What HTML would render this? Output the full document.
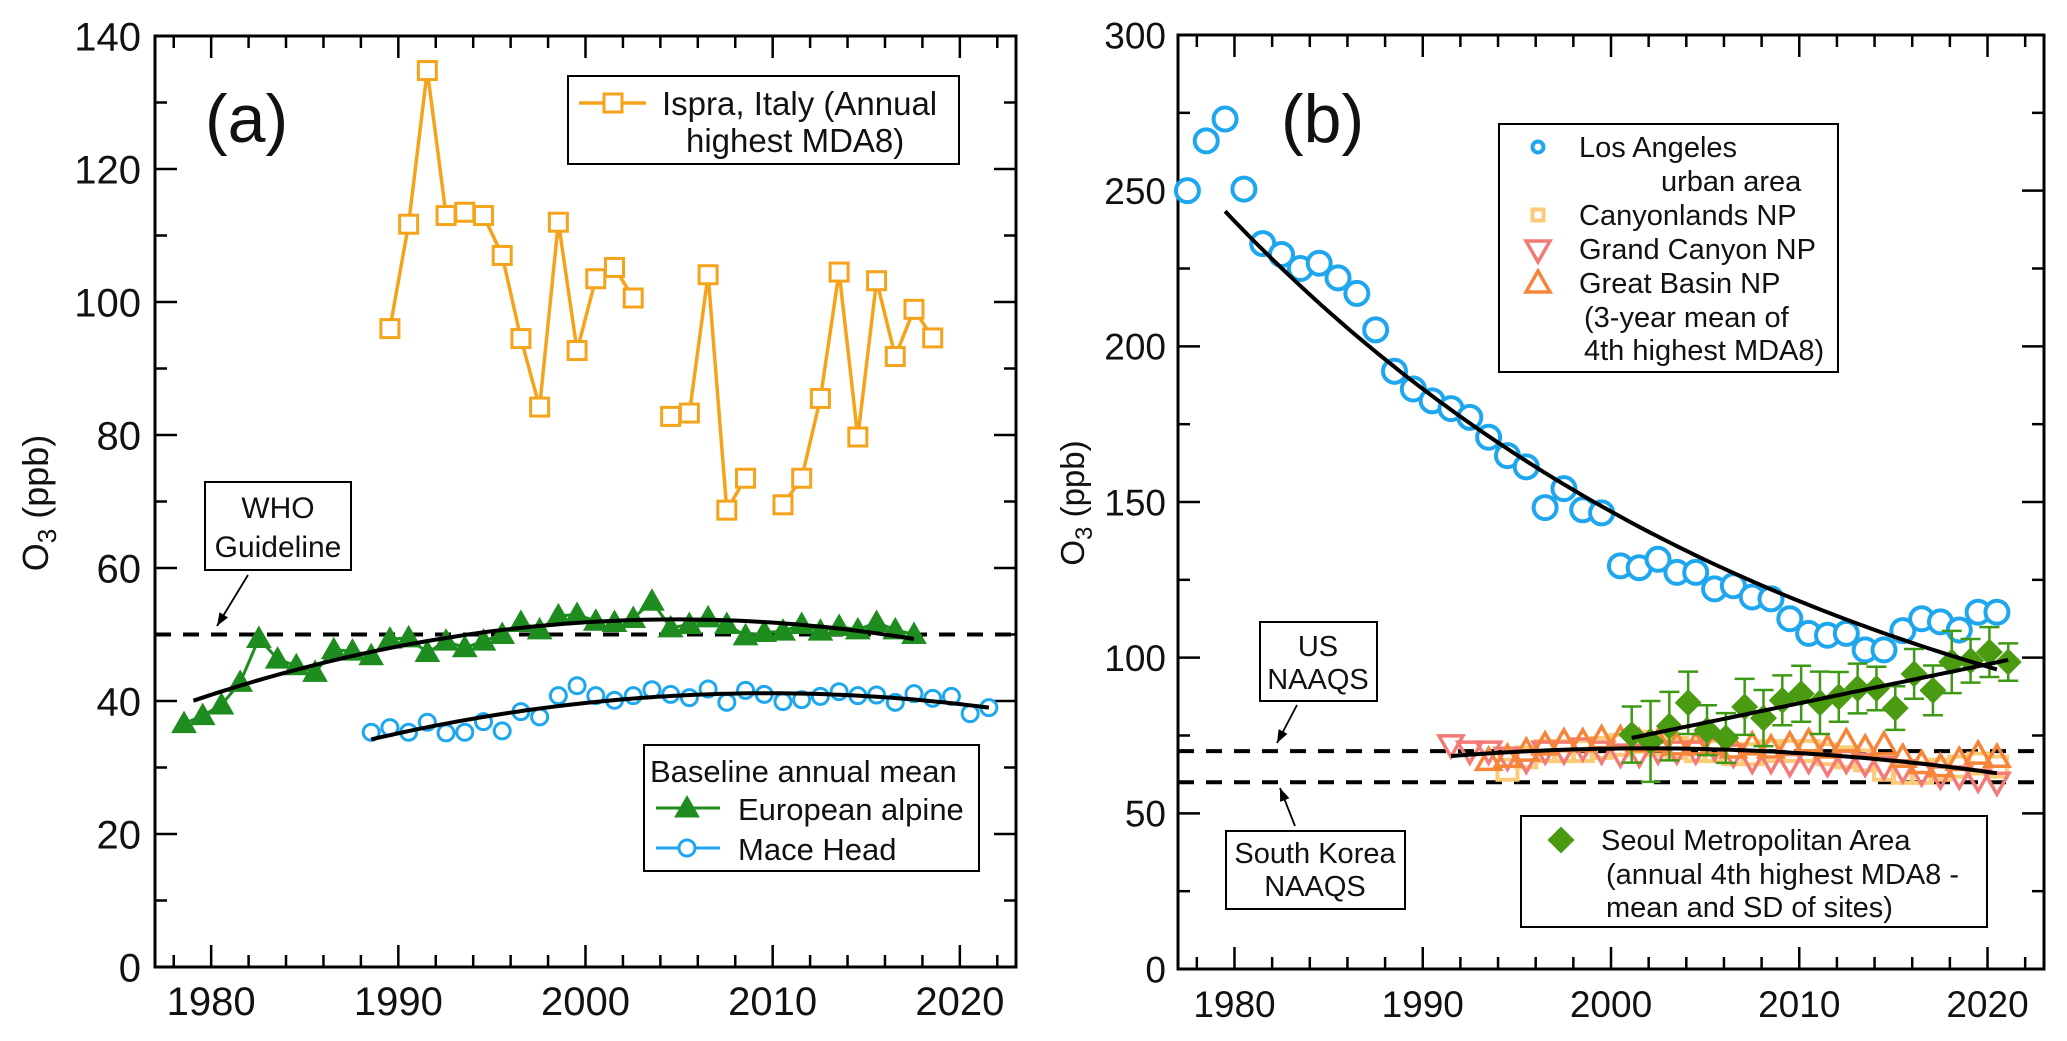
<!DOCTYPE html>
<html><head><meta charset="utf-8"><style>
html,body{margin:0;padding:0;background:#fff;}
svg{display:block;font-family:"Liberation Sans",sans-serif;}
</style></head><body>
<svg id="fig" width="2067" height="1041" viewBox="0 0 2067 1041" xmlns="http://www.w3.org/2000/svg">
<g id="pa"></g>
<g id="pb"></g>
</svg>
<script>
// ---------- Panel (a) data ----------
const ispraYears = [1989,1990,1991,1992,1993,1994,1995,1996,1997,1998,1999,2000,2001,2002,2003,2004,2005,2006,2007,2008,2009,2010,2011,2012,2013,2014,2015,2016,2017,2018];
const ispraVals = [96,111.7,134.8,113,113.5,113,107,94.5,84.2,112,92.7,103.5,105.2,100.6,null,82.8,83.3,104.1,68.7,73.5,null,69.5,73.5,85.5,104.5,79.7,103.2,91.8,98.9,94.6];
const alpineYears = [1978,1979,1980,1981,1982,1983,1984,1985,1986,1987,1988,1989,1990,1991,1992,1993,1994,1995,1996,1997,1998,1999,2000,2001,2002,2003,2004,2005,2006,2007,2008,2009,2010,2011,2012,2013,2014,2015,2016,2017];
const alpineVals = [36.6,37.8,39.4,42.8,49.4,46.3,45.3,44.3,47.7,47.5,46.8,49.3,49.5,47.3,49,48,49,50,51.8,50.7,52.8,53,52,51.8,52.4,55,51,51.5,52.5,51.5,49.8,50.3,50.5,51.5,50.5,51.2,50.7,51.8,50.7,50];
const maceYears = [1988,1989,1990,1991,1992,1993,1994,1995,1996,1997,1998,1999,2000,2001,2002,2003,2004,2005,2006,2007,2008,2009,2010,2011,2012,2013,2014,2015,2016,2017,2018,2019,2020,2021];
const maceVals = [35.3,36,35.3,36.8,35.2,35.3,36.9,35.5,38.4,37.6,40.8,42.3,40.8,40.1,40.8,41.7,41,40.5,41.8,39.8,41.6,41,39.9,40.2,40.7,41.4,40.8,40.9,39.8,41.1,40.4,40.7,38.1,39];
const aYTicks = [0,20,40,60,80,100,120,140];
const xTickLabels = [1980,1990,2000,2010,2020];
const whoGuideline = 50;

// ---------- Panel (b) data ----------
const laYears = [1977,1978,1979,1980,1981,1982,1983,1984,1985,1986,1987,1988,1989,1990,1991,1992,1993,1994,1995,1996,1997,1998,1999,2000,2001,2002,2003,2004,2005,2006,2007,2008,2009,2010,2011,2012,2013,2014,2015,2016,2017,2018,2019,2020];
const laVals = [250,266,273,250.5,233,229.5,225,226.7,222,217,205.3,192,186.3,182.5,180,177.2,170.8,164.9,161.3,148.2,154.3,147.5,146.5,129.5,128.9,131.6,127.4,127.4,122.1,123.1,119.5,118.9,112.5,107.8,107.2,107.8,102.5,102.5,108.7,112.5,111.5,108.9,114.6,114.6];
const gcYears = [1991,1992,1993,1994,1995,1996,1997,1998,1999,2000,2001,2002,2003,2004,2005,2006,2007,2008,2009,2010,2011,2012,2013,2014,2015,2016,2017,2018,2019,2020];
const gcVals = [72,70,70,68,67,70,70,71,70,69,69,70,70,70,71,69,67,67,66,67,66,67,66,65,64,63,62,62,61,60];
const gbYears = [1993,1994,1995,1996,1997,1998,1999,2000,2001,2002,2003,2004,2005,2006,2007,2008,2009,2010,2011,2012,2013,2014,2015,2016,2017,2018,2019,2020];
const gbVals = [67,68,70,72,73,73,74,74,73,73,72,72,72,71,72,71,72,73,71,73,71,72,68,66,65,67,69,68];
const cyYears = [1994,1995,1996,1997,1998,1999,2000,2001,2002,2003,2004,2005,2006,2007,2008,2009,2010,2011,2012,2013,2014,2015,2016,2017,2018,2019,2020];
const cyVals = [64,68,70,70,70,71,72,73,72,71,70,70,69,69,70,70,70,69,68,67,64,63,63,64,65,66,65];
const seoulYears = [2001,2002,2003,2004,2005,2006,2007,2008,2009,2010,2011,2012,2013,2014,2015,2016,2017,2018,2019,2020,2021];
const seoulVals = [75.3,73.1,78,85.5,76.7,74.2,84.2,80.6,86.3,88.4,85.5,87.4,90.1,90.1,83.8,94.8,89.5,98.6,99,101.8,98.6];
const seoulSD = [9,13,11,10,8,8,9,9,8,9,10,8,8,7,7,8,8,10,7,8,6];
const bYTicks = [0,50,100,150,200,250,300];
const usNaaqs = 70, krNaaqs = 60;

const NS = "http://www.w3.org/2000/svg";
function mk(parent, tag, attrs, text){
  const e = document.createElementNS(NS, tag);
  for (const k in attrs) e.setAttribute(k, attrs[k]);
  if (text !== undefined) e.textContent = text;
  parent.appendChild(e);
  return e;
}
function polyfit2(xs, ys){
  const n = xs.length; const m = xs.reduce((a,b)=>a+b,0)/n;
  let S=[0,0,0,0,0], T=[0,0,0];
  for(let i=0;i<n;i++){const x=xs[i]-m;let p=1;for(let k=0;k<5;k++){S[k]+=p;if(k<3)T[k]+=p*ys[i];p*=x;}}
  const A=[[S[0],S[1],S[2],T[0]],[S[1],S[2],S[3],T[1]],[S[2],S[3],S[4],T[2]]];
  for(let i=0;i<3;i++){for(let j=i+1;j<3;j++){const f=A[j][i]/A[i][i];for(let k=i;k<4;k++)A[j][k]-=f*A[i][k];}}
  const c=[0,0,0];
  for(let i=2;i>=0;i--){let s=A[i][3];for(let k=i+1;k<3;k++)s-=A[i][k]*c[k];c[i]=s/A[i][i];}
  return x=>{const d=x-m;return c[0]+c[1]*d+c[2]*d*d;};
}
function linfit(xs, ys){
  const n=xs.length, mx=xs.reduce((a,b)=>a+b,0)/n, my=ys.reduce((a,b)=>a+b,0)/n;
  let sxy=0,sxx=0; for(let i=0;i<n;i++){sxy+=(xs[i]-mx)*(ys[i]-my);sxx+=(xs[i]-mx)**2;}
  const b=sxy/sxx; return x=>my+b*(x-mx);
}

function axesFrame(g, L, T, R, B, xs, ys, yMajor, yMinorStep, yMax, fsz, ylabX){
  mk(g,'rect',{x:L,y:T,width:R-L,height:B-T,fill:'none',stroke:'#000','stroke-width':3});
  for(let yr=1978; yr<=2022; yr+=2){
    const x=xs(yr), major = yr%10===0, len = major?22:12;
    const t1=mk(g,'line',{x1:x,y1:B,x2:x,y2:B-len,stroke:'#000','stroke-width':2.5});
     
    mk(g,'line',{x1:x,y1:T,x2:x,y2:T+len,stroke:'#000','stroke-width':2.5});
  }
  xTickLabels.forEach(v=>{
    const t=mk(g,'text',{x:xs(v),y:B+48,'text-anchor':'middle','font-size':fsz,fill:'#111'},String(v));
     
  });
  for(let v=0; v<=yMax; v+=yMinorStep){
    const y=ys(v), major = yMajor.includes(v), len = major?22:12;
    mk(g,'line',{x1:L,y1:y,x2:L+len,y2:y,stroke:'#000','stroke-width':2.5});
    mk(g,'line',{x1:R,y1:y,x2:R-len,y2:y,stroke:'#000','stroke-width':2.5});
  }
  yMajor.forEach(v=>{
    const t=mk(g,'text',{x:ylabX,y:ys(v)+fsz*0.36,'text-anchor':'end','font-size':fsz,fill:'#111'},String(v));
     
  });
}
function dashed(g,L,R,y){
  return mk(g,'line',{x1:L,y1:y,x2:R,y2:y,stroke:'#000','stroke-width':4,'stroke-dasharray':'16 12'});
}
function curve(g, f, x0, x1, xs, ys){
  let d=''; for(let i=0;i<=80;i++){const x=x0+(x1-x0)*i/80; d+=(i?'L':'M')+xs(x).toFixed(1)+','+ys(f(x)).toFixed(1);}
  return mk(g,'path',{d:d,fill:'none',stroke:'#000','stroke-width':4});
}
function marker(g, type, cx, cy, s, color, sw, fill){
  let e;
  if(type==='sq') e=mk(g,'rect',{x:cx-s/2,y:cy-s/2,width:s,height:s,fill:fill||'#fff',stroke:color,'stroke-width':sw});
  else if(type==='ci') e=mk(g,'circle',{cx:cx,cy:cy,r:s/2,fill:fill||'#fff',stroke:color,'stroke-width':sw});
  else if(type==='tu') e=mk(g,'polygon',{points:`${cx},${cy-s*0.6} ${cx-s*0.6},${cy+s*0.45} ${cx+s*0.6},${cy+s*0.45}`,fill:fill||'none',stroke:color,'stroke-width':sw});
  else if(type==='td') e=mk(g,'polygon',{points:`${cx},${cy+s*0.6} ${cx-s*0.6},${cy-s*0.45} ${cx+s*0.6},${cy-s*0.45}`,fill:fill||'none',stroke:color,'stroke-width':sw});
  else if(type==='di') e=mk(g,'polygon',{points:`${cx},${cy-s/2} ${cx+s/2},${cy} ${cx},${cy+s/2} ${cx-s/2},${cy}`,fill:fill,stroke:'none'});
  return e;
}
function seriesLine(g, years, vals, off, xs, ys, color, w){
  let d='', pen=false;
  years.forEach((yr,i)=>{const v=vals[i]; if(v===null){pen=false;return;} d+=(pen?'L':'M')+xs(yr+off).toFixed(1)+','+ys(v).toFixed(1); pen=true;});
  return mk(g,'path',{d:d,fill:'none',stroke:color,'stroke-width':w});
}
function arrow(g,x1,y1,x2,y2){
  mk(g,'line',{x1:x1,y1:y1,x2:x2,y2:y2,stroke:'#000','stroke-width':1.8});
  const a=Math.atan2(y2-y1,x2-x1), L=13, W=5;
  const p1=[x2-L*Math.cos(a)+W*Math.sin(a), y2-L*Math.sin(a)-W*Math.cos(a)];
  const p2=[x2-L*Math.cos(a)-W*Math.sin(a), y2-L*Math.sin(a)+W*Math.cos(a)];
  mk(g,'polygon',{points:`${x2},${y2} ${p1[0]},${p1[1]} ${p2[0]},${p2[1]}`,fill:'#000'});
}

// ================= Panel (a) =================
(function(){
  const g=document.getElementById('pa');
  const L=155,R=1016,T=36,B=967;
  const xs=yr=>L+(yr-1977)/(2023-1977)*(R-L);
  const ys=v=>B-v/140*(B-T);
  axesFrame(g,L,T,R,B,xs,ys,aYTicks,10,140,40,141);
  const yt=mk(g,'text',{x:0,y:0,'font-size':36,'text-anchor':'middle',transform:'translate(48,503) rotate(-90)',fill:'#111'});
   
  yt.innerHTML='O<tspan font-size="26" dy="8">3</tspan><tspan dy="-8"> (ppb)</tspan>';
  const lab=mk(g,'text',{x:205,y:142,'font-size':68,fill:'#111'},'(a)');
   

  const wl=dashed(g,L,R,ys(whoGuideline));
   

  const aOff=0.55;
  const af=polyfit2(alpineYears.map(y=>y+aOff),alpineVals);
  const mf=polyfit2(maceYears.map(y=>y+aOff),maceVals);
  const il=seriesLine(g,ispraYears,ispraVals,aOff,xs,ys,'#F5A31A',3.5);
   
  ispraYears.forEach((yr,i)=>{ if(ispraVals[i]===null) return;
    const m=marker(g,'sq',xs(yr+aOff),ys(ispraVals[i]),18,'#F5A31A',3);
     });
  const al=seriesLine(g,alpineYears,alpineVals,aOff,xs,ys,'#1E8C1E',3);
   
  alpineYears.forEach((yr,i)=>{
    const m=marker(g,'tu',xs(yr+aOff),ys(alpineVals[i]),20,'#1E8C1E',1,'#1E8C1E');
     });
  maceYears.forEach((yr,i)=>{
    const m=marker(g,'ci',xs(yr+aOff),ys(maceVals[i]),16,'#1EA7EE',3);
     });
  const c1=curve(g,af,alpineYears[0]+aOff+0.5,alpineYears[alpineYears.length-1]+aOff,xs,ys);
   
  const c2=curve(g,mf,maceYears[0]+aOff,maceYears[maceYears.length-1]+aOff,xs,ys);
   

  const wb=mk(g,'g',{});  
  mk(wb,'rect',{x:205,y:482,width:146,height:88,fill:'#fff',stroke:'#000','stroke-width':2});
  mk(wb,'text',{x:278,y:518,'font-size':30,'text-anchor':'middle',fill:'#111'},'WHO');
  mk(wb,'text',{x:278,y:557,'font-size':30,'text-anchor':'middle',fill:'#111'},'Guideline');
  arrow(g,248,575,217,626);

  const lg=mk(g,'g',{});  
  mk(lg,'rect',{x:568,y:76,width:391,height:88,fill:'#fff',stroke:'#000','stroke-width':2});
  mk(lg,'line',{x1:579,y1:103,x2:646,y2:103,stroke:'#F5A31A','stroke-width':3.5});
  marker(lg,'sq',613,103,18,'#F5A31A',3);
  mk(lg,'text',{x:662,y:115,'font-size':33,fill:'#111'},'Ispra, Italy (Annual');
  mk(lg,'text',{x:686,y:152,'font-size':33,fill:'#111'},'highest MDA8)');

  const bl=mk(g,'g',{});  
  mk(bl,'rect',{x:644,y:745,width:335,height:126,fill:'#fff',stroke:'#000','stroke-width':2});
  mk(bl,'text',{x:650,y:782,'font-size':31,fill:'#111'},'Baseline annual mean');
  mk(bl,'line',{x1:656,y1:808,x2:720,y2:808,stroke:'#1E8C1E','stroke-width':3});
  marker(bl,'tu',687,808,20,'#1E8C1E',1,'#1E8C1E');
  mk(bl,'text',{x:738,y:820,'font-size':31,fill:'#111'},'European alpine');
  mk(bl,'line',{x1:656,y1:848,x2:720,y2:848,stroke:'#1EA7EE','stroke-width':3});
  marker(bl,'ci',687,848,16,'#1EA7EE',3);
  mk(bl,'text',{x:738,y:860,'font-size':31,fill:'#111'},'Mace Head');
})();

// ================= Panel (b) =================
(function(){
  const g=document.getElementById('pb');
  const L=1178,R=2044,T=35,B=969;
  const xs=yr=>L+(yr-1977)/(2023-1977)*(R-L);
  const ys=v=>B-v/300*(B-T);
  axesFrame(g,L,T,R,B,xs,ys,bYTicks,25,300,37,1166);
  const yt=mk(g,'text',{x:0,y:0,'font-size':33,'text-anchor':'middle',transform:'translate(1084,503) rotate(-90)',fill:'#111'});
   
  yt.innerHTML='O<tspan font-size="24" dy="8">3</tspan><tspan dy="-8"> (ppb)</tspan>';
  const lab=mk(g,'text',{x:1281,y:142,'font-size':68,fill:'#111'},'(b)');
   

  const d1=dashed(g,L,R,ys(usNaaqs));  
  const d2=dashed(g,L,R,ys(krNaaqs));  

  const off=0.5;
  cyYears.forEach((yr,i)=>{const m=marker(g,'sq',xs(yr+off),ys(cyVals[i]),20,'#FCCB78',4,'none');
     });
  gcYears.forEach((yr,i)=>{const m=marker(g,'td',xs(yr+off),ys(gcVals[i]),20,'#F47A78',3.5);
     });
  gbYears.forEach((yr,i)=>{const m=marker(g,'tu',xs(yr+off),ys(gbVals[i]),20,'#F6853A',3.5);
     });
  laYears.forEach((yr,i)=>{const m=marker(g,'ci',xs(yr+off),ys(laVals[i]),23,'#1EA7EE',4);
     });
  const sOff=0.1;
  seoulYears.forEach((yr,i)=>{
    const x=xs(yr+sOff), v=seoulVals[i], s=seoulSD[i];
    const eb=mk(g,'path',{d:`M${x},${ys(v-s)}L${x},${ys(v+s)}M${x-10},${ys(v-s)}L${x+10},${ys(v-s)}M${x-10},${ys(v+s)}L${x+10},${ys(v+s)}`,stroke:'#3E9A14','stroke-width':2.5,fill:'none'});
     
    const m=marker(g,'di',x,ys(v),27,null,0,'#4A9A12');
     
  });
  const lx=laYears.map(y=>y+off);
  const lf0=linfit(lx,laVals.map(v=>Math.log(v-40)));
  const lf=x=>40+Math.exp(lf0(x));
  const c1=curve(g,lf,laYears[2]+off,laYears[laYears.length-1]+off,xs,ys);
   
  const sf=linfit(seoulYears.map(y=>y+sOff),seoulVals);
  const c2=curve(g,sf,seoulYears[0]+sOff,seoulYears[seoulYears.length-1]+sOff,xs,ys);
   
  const npx=[].concat(gcYears,gbYears,cyYears).map(y=>y+off), npy=[].concat(gcVals,gbVals,cyVals);
  const nf=polyfit2(npx,npy);
  const c3=curve(g,nf,gcYears[0]+off,gcYears[gcYears.length-1]+off,xs,ys);
   

  const lg=mk(g,'g',{});  
  mk(lg,'rect',{x:1499,y:124,width:339,height:248,fill:'#fff',stroke:'#000','stroke-width':2});
  const fs=29;
  marker(lg,'ci',1538,147,11,'#1EA7EE',4);
  mk(lg,'text',{x:1579,y:157,'font-size':fs,fill:'#111'},'Los Angeles');
  mk(lg,'text',{x:1661,y:191,'font-size':fs,fill:'#111'},'urban area');
  marker(lg,'sq',1538,215,11,'#FCCB78',4,'none');
  mk(lg,'text',{x:1579,y:225,'font-size':fs,fill:'#111'},'Canyonlands NP');
  marker(lg,'td',1538,250,20,'#F47A78',3.5);
  mk(lg,'text',{x:1579,y:259,'font-size':fs,fill:'#111'},'Grand Canyon NP');
  marker(lg,'tu',1538,283,20,'#F6853A',3.5);
  mk(lg,'text',{x:1579,y:293,'font-size':fs,fill:'#111'},'Great Basin NP');
  mk(lg,'text',{x:1584,y:327,'font-size':fs,fill:'#111'},'(3-year mean of');
  mk(lg,'text',{x:1584,y:360,'font-size':fs,fill:'#111'},'4th highest MDA8)');

  const sl=mk(g,'g',{});  
  mk(sl,'rect',{x:1521,y:816,width:466,height:111,fill:'#fff',stroke:'#000','stroke-width':2});
  marker(sl,'di',1561,840,27,null,0,'#4A9A12');
  mk(sl,'text',{x:1601,y:850,'font-size':fs,fill:'#111'},'Seoul Metropolitan Area');
  mk(sl,'text',{x:1606,y:884,'font-size':fs,fill:'#111'},'(annual 4th highest MDA8 -');
  mk(sl,'text',{x:1606,y:917,'font-size':fs,fill:'#111'},'mean and SD of sites)');

  const ub=mk(g,'g',{});  
  mk(ub,'rect',{x:1260,y:622,width:117,height:79,fill:'#fff',stroke:'#000','stroke-width':2});
  mk(ub,'text',{x:1318,y:656,'font-size':fs,'text-anchor':'middle',fill:'#111'},'US');
  mk(ub,'text',{x:1318,y:689,'font-size':fs,'text-anchor':'middle',fill:'#111'},'NAAQS');
  arrow(g,1297,705,1277,743);

  const kb=mk(g,'g',{});  
  mk(kb,'rect',{x:1226,y:831,width:179,height:78,fill:'#fff',stroke:'#000','stroke-width':2});
  mk(kb,'text',{x:1315,y:863,'font-size':fs,'text-anchor':'middle',fill:'#111'},'South Korea');
  mk(kb,'text',{x:1315,y:896,'font-size':fs,'text-anchor':'middle',fill:'#111'},'NAAQS');
  arrow(g,1295,826,1280,788);
})();
</script>
</body></html>
